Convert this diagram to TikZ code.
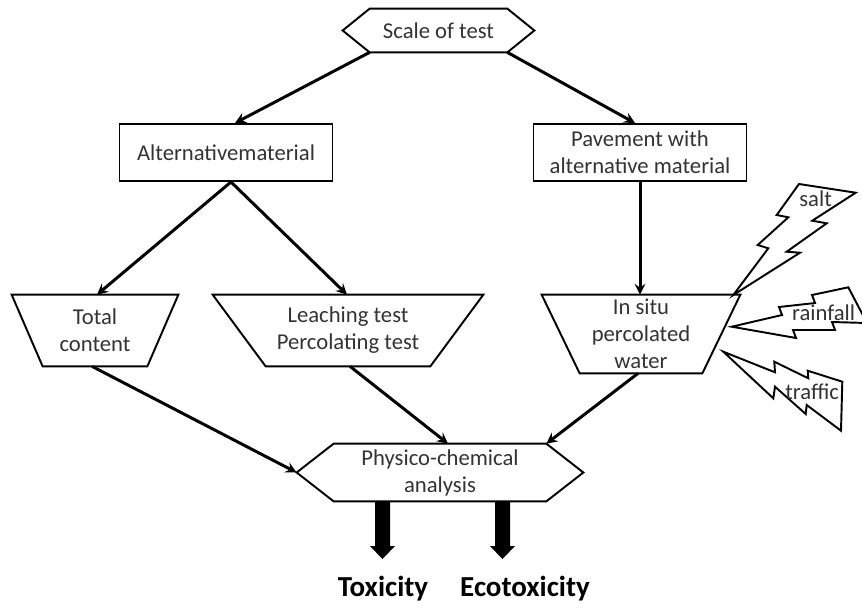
\documentclass[tikz,border=0pt]{standalone}
\usepackage{fontspec}
\setmainfont{Carlito}
\usetikzlibrary{calc}

\begin{document}
\begin{tikzpicture}[x=0.02cm, y=-0.02cm]
  \newcommand\pxl{0.02cm}
  \newcommand\boxlw{1.1pt}
  \newcommand\boxfont{\fontsize{12.9}{15.4}\selectfont}

  \tikzset{flownode/.style={inner sep=0pt, align=center, text=black!80, font=\boxfont}}
  \tikzset{matbox/.style={flownode, draw, text=black!80, line width=\boxlw, minimum width=213*\pxl, minimum height=57*\pxl}}
  \tikzset{outline/.style={line width=\boxlw, line join=miter}}
  \tikzset{ptr/.style={->, >=stealth, line width=1.7pt}}
  \tikzset{boltline/.style={draw, line width=\boxlw, line join=miter}}
  \tikzset{boltlbl/.style={anchor=base west, inner sep=0pt, text=black!80, font=\boxfont}}
  \tikzset{resultlbl/.style={inner sep=0pt, font=\fontsize{16.5}{19.8}\selectfont\bfseries}}

  \useasboundingbox (0,0) rectangle (862,609);
  \clip (0,0) rectangle (862,609);

  % hexagons and boxes
  \node[flownode, minimum width=191*\pxl, minimum height=43*\pxl] at (438.5,30.5) (scale) {Scale of test};
  \node[matbox] at (226,152.5) (altmat) {Alternativematerial};
  \node[matbox] at (640,152.5) (pave) {Pavement with\\alternative material};
  \node[flownode, minimum width=286*\pxl, minimum height=57*\pxl] at (440,472.5) (phys) {Physico-chemical\\analysis};
  \foreach \hex/\cut in {scale/27, phys/37}{
    \draw[outline] (\hex.west) -- ($(\hex.north west)+(\cut,0)$) -- ($(\hex.north east)+(-\cut,0)$) -- (\hex.east)
      -- ($(\hex.south east)+(-\cut,0)$) -- ($(\hex.south west)+(\cut,0)$) -- cycle;
  }

  % trapezia
  \node[flownode, minimum width=166*\pxl, minimum height=71*\pxl] at (95,330.5) (total) {Total\\content};
  \node[flownode, minimum width=270*\pxl, minimum height=71*\pxl] at (348,330.5) (leach) {Leaching test\\Percolating test};
  \node[flownode, minimum width=198*\pxl, minimum height=78*\pxl] at (641,334) (insitu) {In situ\\percolated\\water};
  \foreach \trap/\cut in {total/31, leach/53, insitu/38}{
    \draw[outline] (\trap.north west) -- (\trap.north east) -- ($(\trap.south east)+(-\cut,0)$) -- ($(\trap.south west)+(\cut,0)$) -- cycle;
  }

  % connectors
  \draw[ptr] ($(scale.south west)+(27,0)$) -- ($(altmat.north)+(9,0)$);
  \draw[ptr] ($(scale.south east)+(-27,0)$) -- ($(pave.north)+(-5,0)$);
  \foreach \dst/\dx in {total/2, leach/-1}{
    \draw[ptr] ($(altmat.south)+(5,0)$) -- ($(\dst.north)+(\dx,0)$);
  }
  \draw[ptr] (pave.south) -- (pave.south |- insitu.north);
  \draw[ptr] ($(total.south)+(-3,0)$) -- (phys.west);
  \draw[ptr] ($(leach.south)+(2,0)$) -- ($(phys.north)+(8,0)$);
  \draw[ptr] ($(insitu.south)+(-3,0)$) -- ($(phys.north east)+(-37,0)$);

  % results
  \coordinate (toxtip) at (382.5,559);
  \coordinate (ecotip) at (502.5,559);
  \foreach \tip in {toxtip, ecotip}{
    \fill ($(phys.south -| \tip)+(-7.5,0)$) -- ($(\tip)+(-7.5,-13)$) -- ($(\tip)+(-12.5,-13)$) -- (\tip)
      -- ($(\tip)+(12.5,-13)$) -- ($(\tip)+(7.5,-13)$) -- ($(phys.south -| \tip)+(7.5,0)$) -- cycle;
  }
  \node[resultlbl] at (383,589) (tox) {Toxicity};
  \node[resultlbl] at (525,589) (ecotox) {Ecotoxicity};

  % bolts
  \draw[boltline] (799,184) -- (855.7,192.7) -- (812.3,220.7) -- (826.7,223.3) -- (786.7,251.7) -- (800,252.7)
    -- (733.3,295) -- (768.3,248.3) -- (757.7,245) -- (788.3,217.3) -- (776.7,215) -- cycle;
  \node[boltlbl] at (799,206) (saltlbl) {salt};
  \draw[boltline] (731.7,326.7) -- (782,315) -- (779,307) -- (815,303) -- (812,295) -- (848.3,287.3)
    -- (867,323) -- (832,322) -- (835,330) -- (793,330) -- (796,338) -- cycle;
  \node[boltlbl] at (791.7,320) (rainlbl) {rainfall};
  \draw[boltline] (723.3,351.7) -- (775,372.3) -- (774.3,361.7) -- (808.3,378.3) -- (807.7,370.7) -- (842.3,381.7)
    -- (841,430.7) -- (806.7,405) -- (805.7,414) -- (775,386.7) -- (773.3,398.3) -- cycle;
  \node[boltlbl] at (785,399.3) (traflbl) {traffic};
\end{tikzpicture}
\end{document}
